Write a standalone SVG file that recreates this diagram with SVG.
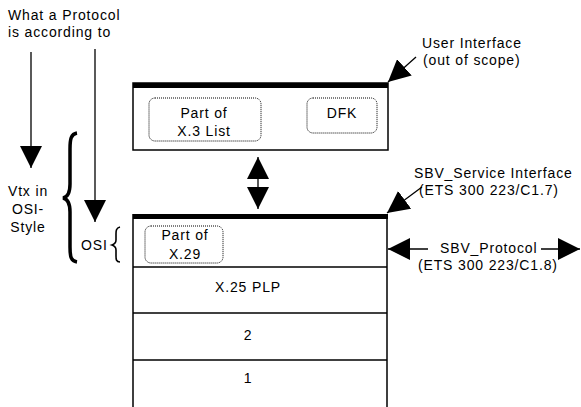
<svg xmlns="http://www.w3.org/2000/svg" width="581" height="407" viewBox="0 0 581 407">
<style>
  text { font-family: "Liberation Sans", Arial, sans-serif; font-size: 14px; letter-spacing: 0.85px; fill: #000; }
  .c { text-anchor: middle; }
  .box { fill: #fff; stroke: #000; stroke-width: 1.5; }
  .bar { fill: #000; }
  .row { stroke: #000; stroke-width: 1.5; }
  .dot { fill: none; stroke: #000; stroke-width: 1; stroke-dasharray: 1 1; }
  .arr { stroke: #000; stroke-width: 1.3; fill: none; }
  .brace { fill: none; stroke: #000; }
</style>
<defs>
  <marker id="ah" markerUnits="userSpaceOnUse" markerWidth="22" markerHeight="22" refX="20" refY="10" orient="auto-start-reverse" viewBox="0 0 20 20">
    <path d="M0,0 L20,10 L0,20 z" fill="#000"/>
  </marker>
</defs>

<g id="caption">
  <text x="8" y="20">What a Protocol</text>
  <text x="8" y="37">is according to</text>
</g>

<g id="vtx-label">
  <text class="c" x="28" y="196">Vtx in</text>
  <text class="c" x="28" y="214">OSI-</text>
  <text class="c" x="28" y="232">Style</text>
  <path class="brace" stroke-width="3.5" d="M77,133 C71,134 70,139 70,149 L70,184 C70,193 68,197 63,198 C68,199 70,203 70,212 L70,247 C70,257 71,261 77,262"/>
</g>

<g id="osi-label">
  <text x="81" y="250">OSI</text>
  <path class="brace" stroke-width="1.6" d="M120,227 C116,228 116,231 116,234 L116,240 C116,243 115,244 112,245 C115,246 116,247 116,250 L116,256 C116,259 116,262 120,262"/>
</g>

<g id="user-box">
  <rect class="box" x="133" y="83" width="255" height="67"/>
  <rect class="bar" x="133" y="83" width="255" height="5"/>
  <g id="x3-list">
    <rect class="dot" x="149" y="98" width="112" height="43" rx="6"/>
    <text class="c" x="204" y="118">Part of</text>
    <text class="c" x="204" y="136">X.3 List</text>
  </g>
  <g id="dfk">
    <rect class="dot" x="307" y="98" width="70" height="35" rx="6"/>
    <text class="c" x="342" y="118">DFK</text>
  </g>
</g>

<g id="osi-stack">
  <path class="row" d="M133,214 L133,407 M387,214 L387,407" fill="none"/>
  <rect class="bar" x="133" y="214" width="255" height="5"/>
  <line class="row" x1="133" y1="267" x2="387" y2="267"/>
  <line class="row" x1="133" y1="313" x2="387" y2="313"/>
  <line class="row" x1="133" y1="360" x2="387" y2="360"/>
  <g id="x29">
    <rect class="dot" x="145" y="226" width="78" height="37" rx="6"/>
    <text class="c" x="185" y="240">Part of</text>
    <text class="c" x="185" y="259">X.29</text>
  </g>
  <text class="c" x="248" y="292">X.25 PLP</text>
  <text class="c" x="248" y="340">2</text>
  <text class="c" x="248" y="383">1</text>
</g>

<g id="labels-right">
  <text x="422" y="48">User Interface</text>
  <text x="423" y="65">(out of scope)</text>
  <text x="414" y="178">SBV_Service Interface</text>
  <text x="419" y="195">(ETS 300 223/C1.7)</text>
  <text x="440" y="253">SBV_Protocol</text>
  <text x="418" y="270">(ETS 300 223/C1.8)</text>
</g>

<g id="connectors">
  <line class="arr" x1="31" y1="52" x2="31" y2="168" marker-end="url(#ah)"/>
  <line class="arr" x1="95" y1="49" x2="95" y2="222" marker-end="url(#ah)"/>
  <line class="arr" x1="258" y1="157" x2="258" y2="209" marker-start="url(#ah)" marker-end="url(#ah)"/>
  <line class="arr" x1="416" y1="57" x2="388" y2="82" marker-end="url(#ah)"/>
  <line class="arr" x1="422" y1="187" x2="387" y2="213" marker-end="url(#ah)"/>
  <line class="arr" x1="428" y1="249" x2="388" y2="249" marker-end="url(#ah)"/>
  <line class="arr" x1="541" y1="249" x2="580" y2="249" marker-end="url(#ah)"/>
</g>
</svg>
